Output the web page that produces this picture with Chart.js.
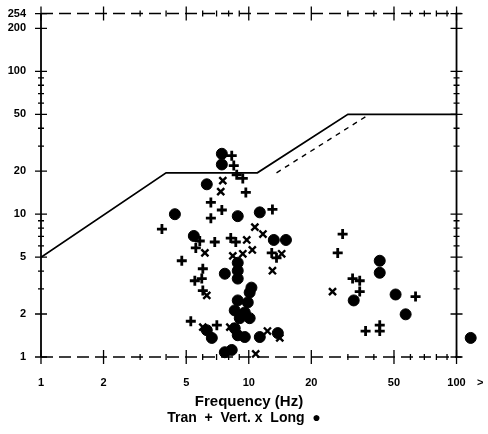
<!DOCTYPE html>
<html>
<head>
<meta charset="utf-8">
<script src="https://cdn.jsdelivr.net/npm/chart.js@4/dist/chart.umd.min.js"></script>
<style>
  body { margin: 0; background: #fff; }
  canvas { display: block; }
</style>
</head>
<body>
<canvas id="chart" width="488" height="434"></canvas>
<script>
// Tick values and labels
const xTickValues = [1, 2, 3, 4, 5, 6, 7, 8, 9, 10, 20, 30, 40, 50, 60, 70, 80, 90, 100, 130];
const xTickLabels = [1, 2, 5, 10, 20, 50, 100];
const yTickValues = [1, 2, 3, 4, 5, 6, 7, 8, 9, 10, 20, 30, 40, 50, 60, 70, 80, 90, 100, 200, 254];
const yTickLabels = [1, 2, 5, 10, 20, 50, 100, 200, 254];
const xTitle = "Frequency (Hz)";
const legendText = "Tran  +  Vert. x  Long  \u25CF";

// Limit curves
const limitFreq = [1, 4, 11, 30, 100];
const limitAmp = [5, 19.5, 19.5, 50, 50];
const limitDashFreq = [13.6, 38];
const limitDashAmp = [19.5, 50];

// Tran (+)
const tranFreq = [3.82, 8.28, 8.47, 8.75, 9.36, 9.68, 6.57, 7.42, 6.57, 13.0, 5.81, 6.86, 5.56, 4.76, 6.01, 12.9, 13.6, 5.50, 5.94, 6.01, 5.26, 7.02, 8.38, 8.19, 8.66, 28.3, 26.8, 31.6, 34.2, 34.2, 63.5, 36.5, 42.7, 42.7];
const tranAmp = [7.87, 25.7, 21.9, 18.9, 17.8, 14.2, 12.1, 10.7, 9.38, 10.8, 6.49, 6.39, 5.81, 4.72, 4.15, 5.36, 4.95, 3.42, 3.54, 2.92, 1.78, 1.67, 1.59, 6.81, 6.39, 7.26, 5.36, 3.54, 3.42, 2.87, 2.65, 1.52, 1.67, 1.52];

// Vert (x)
const vertFreq = [7.50, 7.33, 10.7, 11.7, 9.78, 6.15, 8.38, 9.36, 10.4, 14.4, 13.0, 6.28, 6.01, 8.11, 12.3, 14.1, 25.3, 10.8];
const vertAmp = [17.2, 14.4, 8.12, 7.26, 6.6, 5.36, 5.11, 5.28, 5.62, 5.28, 4.02, 2.70, 1.62, 1.62, 1.52, 1.36, 2.87, 1.05];

// Long (dot)
const longFreq = [7.42, 7.42, 6.28, 4.41, 8.85, 11.3, 5.44, 13.2, 15.1, 8.85, 8.85, 8.85, 7.67, 10.3, 10.1, 8.85, 9.89, 8.56, 9.57, 9.05, 10.1, 6.28, 6.64, 8.56, 8.85, 9.57, 11.3, 13.8, 7.67, 8.28, 42.7, 42.7, 32.0, 50.9, 56.9, 117];
const longAmp = [26.5, 22.3, 16.2, 10.0, 9.69, 10.3, 7.04, 6.6, 6.6, 4.57, 4.02, 3.54, 3.83, 3.06, 2.83, 2.49, 2.41, 2.12, 2.05, 1.87, 1.87, 1.54, 1.36, 1.59, 1.42, 1.38, 1.38, 1.47, 1.08, 1.12, 4.72, 3.89, 2.49, 2.74, 1.99, 1.36];

const FONT = "'Liberation Sans', Arial, sans-serif";

function toPoints(xs, ys) {
  return xs.map((x, i) => ({ x: x, y: ys[i] }));
}

// Draws the box, crossing tick marks and the two caption lines
const framePlugin = {
  id: "frame",
  afterDatasetsDraw(chart) {
    const { ctx, scales: { x, y } } = chart;
    const left = x.getPixelForValue(1);
    const right = x.getPixelForValue(100);
    const bottom = y.getPixelForValue(1);
    const top = y.getPixelForValue(254);

    ctx.save();
    ctx.strokeStyle = "#000";
    ctx.lineWidth = 1.8;

    ctx.beginPath();
    ctx.moveTo(left, bottom); ctx.lineTo(left, top);
    ctx.moveTo(right, bottom); ctx.lineTo(right, top);
    ctx.stroke();

    ctx.lineWidth = 1.5;
    ctx.setLineDash([12, 6]);
    ctx.beginPath();
    ctx.moveTo(left, bottom); ctx.lineTo(right + 5, bottom);
    ctx.moveTo(left, top); ctx.lineTo(right + 5, top);
    ctx.stroke();
    ctx.setLineDash([]);

    ctx.lineWidth = 1.3;
    ctx.beginPath();
    yTickValues.forEach(v => {
      const py = y.getPixelForValue(v);
      const len = yTickLabels.includes(v) ? 6 : 3;
      ctx.moveTo(left - len, py); ctx.lineTo(left + len, py);
      ctx.moveTo(right - len, py); ctx.lineTo(right + len, py);
    });
    xTickValues.forEach(v => {
      if (v > 100) return;
      const px = x.getPixelForValue(v);
      const len = xTickLabels.includes(v) ? 7 : 3;
      ctx.moveTo(px, bottom - len); ctx.lineTo(px, bottom + len);
      ctx.moveTo(px, top - len); ctx.lineTo(px, top + len);
    });
    ctx.stroke();

    ctx.fillStyle = "#000";
    ctx.textAlign = "center";
    ctx.textBaseline = "middle";
    ctx.font = "bold 15px " + FONT;
    ctx.fillText(xTitle, 249, 402);
    ctx.font = "bold 14px " + FONT;
    ctx.fillText(legendText, 244, 418);
    ctx.restore();
  }
};

new Chart(document.getElementById("chart"), {
  type: "scatter",
  data: {
    datasets: [
      {
        label: "Limit",
        data: toPoints(limitFreq, limitAmp),
        showLine: true,
        borderColor: "#000",
        borderWidth: 1.7,
        pointRadius: 0
      },
      {
        label: "Limit (dashed)",
        data: toPoints(limitDashFreq, limitDashAmp),
        showLine: true,
        borderColor: "#000",
        borderWidth: 1.4,
        borderDash: [5, 5],
        pointRadius: 0
      },
      {
        label: "Tran",
        data: toPoints(tranFreq, tranAmp),
        pointStyle: "cross",
        pointRadius: 5,
        borderColor: "#000",
        borderWidth: 2.8,
        clip: false
      },
      {
        label: "Vert.",
        data: toPoints(vertFreq, vertAmp),
        pointStyle: "crossRot",
        pointRadius: 5,
        borderColor: "#000",
        borderWidth: 2.4,
        clip: false
      },
      {
        label: "Long",
        data: toPoints(longFreq, longAmp),
        pointStyle: "circle",
        pointRadius: 5.5,
        backgroundColor: "#000",
        borderColor: "#000",
        borderWidth: 1,
        clip: false
      }
    ]
  },
  options: {
    responsive: false,
    animation: false,
    layout: { padding: { top: 11, right: 7, left: 0, bottom: 0 } },
    plugins: {
      legend: { display: false },
      tooltip: { enabled: false }
    },
    scales: {
      x: {
        type: "logarithmic",
        min: 1,
        max: 130,
        grid: { display: false },
        border: { display: false },
        afterBuildTicks: scale => { scale.ticks = xTickValues.map(v => ({ value: v })); },
        afterFit: scale => {
          scale.height = 77;
          scale.paddingLeft = 0;
          scale.paddingRight = 0;
        },
        ticks: {
          autoSkip: false,
          maxRotation: 0,
          padding: 11,
          color: "#000",
          font: { family: FONT, size: 11, weight: "bold" },
          callback: v => v > 100 ? ">" : (xTickLabels.includes(v) ? String(v) : "")
        }
      },
      y: {
        type: "logarithmic",
        min: 1,
        max: 254,
        grid: { display: false },
        border: { display: false },
        afterBuildTicks: scale => { scale.ticks = yTickValues.map(v => ({ value: v })); },
        afterFit: scale => { scale.width = 41; },
        ticks: {
          autoSkip: false,
          padding: 7,
          color: "#000",
          font: { family: FONT, size: 11, weight: "bold" },
          callback: v => yTickLabels.includes(v) ? String(v) : ""
        }
      }
    }
  },
  plugins: [framePlugin]
});
</script>
</body>
</html>
